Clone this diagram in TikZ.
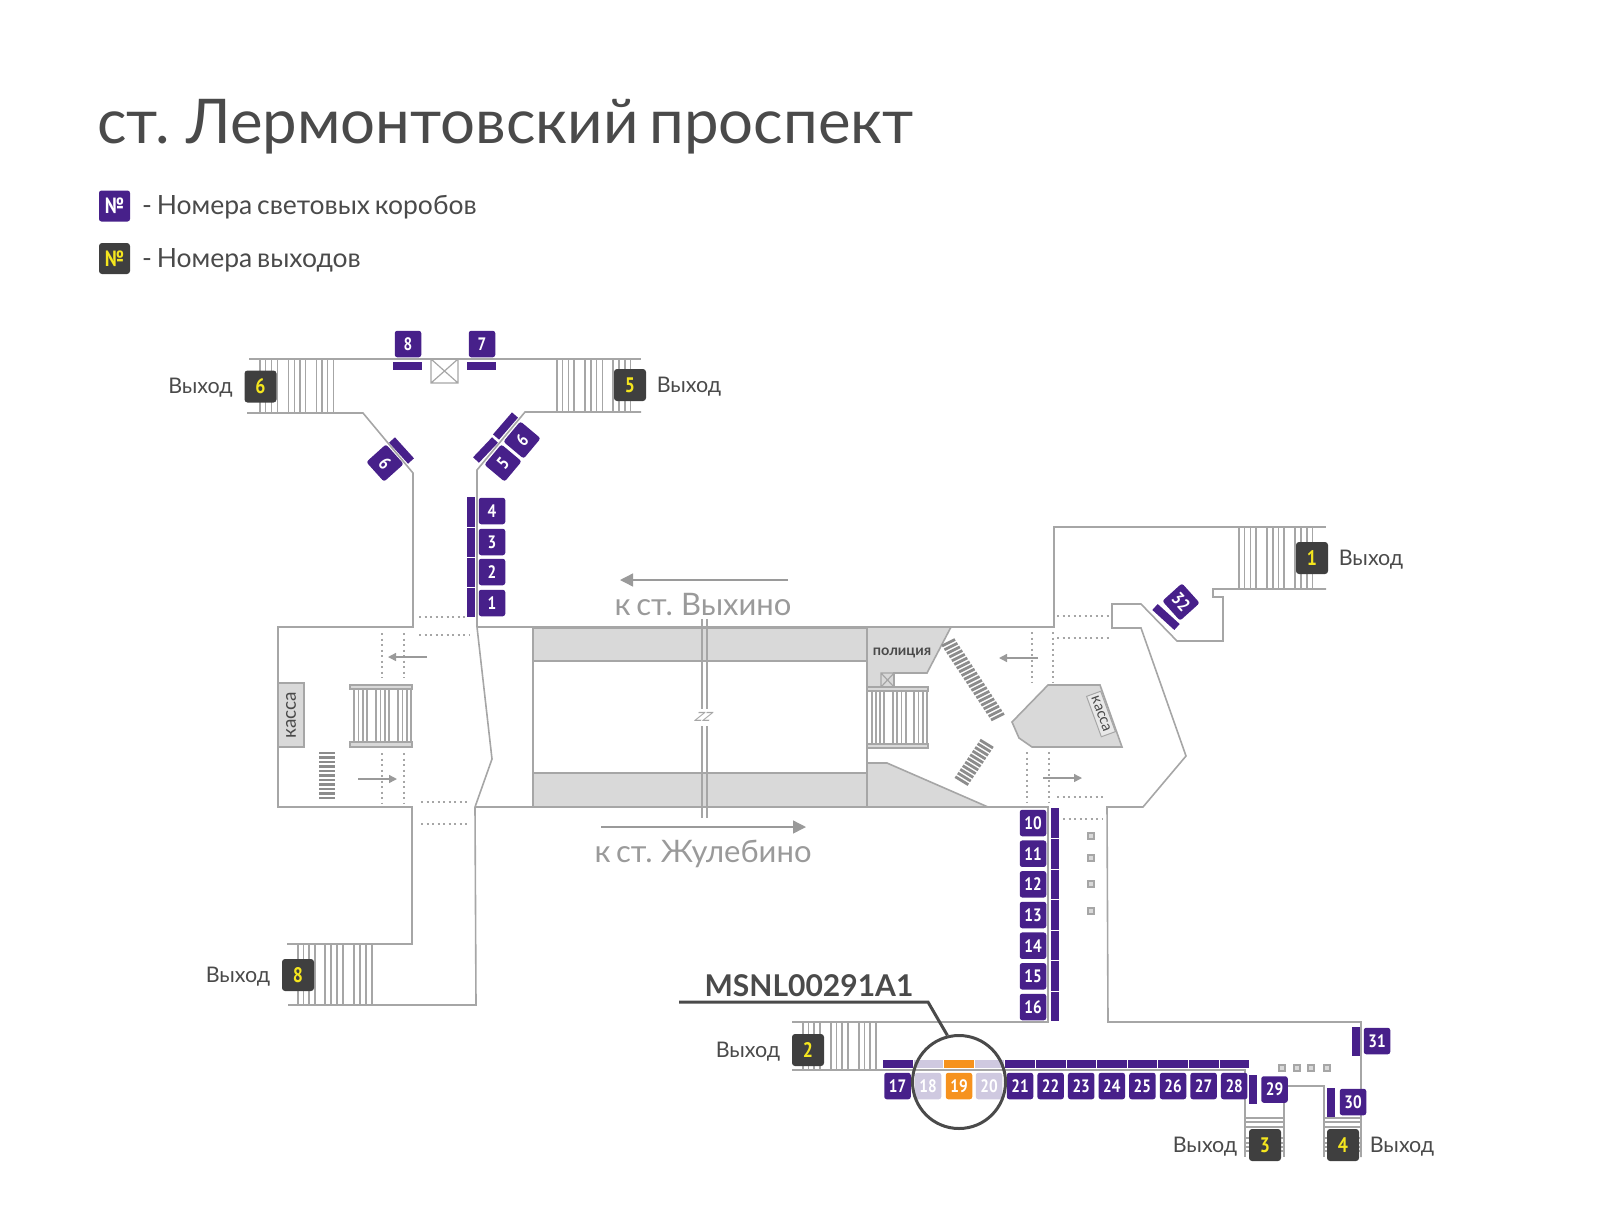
\documentclass[tikz,border=0pt]{standalone}
\usepackage{fontspec}
\setmainfont{Lato}[WordSpace=0.7]
\newfontfamily\numfont[FakeStretch=0.85]{PT Sans}
\usetikzlibrary{arrows.meta}
\definecolor{boxviolet}{HTML}{47208A}
\definecolor{boxpale}{HTML}{CFC9E0}
\definecolor{boxorange}{HTML}{F6921E}
\definecolor{exitgrey}{HTML}{3F3F3F}
\definecolor{exityellow}{HTML}{F5E61E}
\definecolor{wallgrey}{HTML}{A6A6A6}
\definecolor{floorgrey}{HTML}{D9D9D9}
\definecolor{inkgrey}{HTML}{4A4A4A}
\definecolor{labelgrey}{HTML}{9A9A9A}
\tikzset{
	wall/.style={draw=wallgrey,line width=1.6pt,line join=miter},
	stairline/.style={draw=wallgrey,line width=1.2pt},
	dotline/.style={draw=wallgrey,line width=2.4pt,dash pattern=on 2.4pt off 3.1pt},
	hatchline/.style={draw=black!45,line width=2.8pt},
	smallarrow/.style={draw=labelgrey,line width=1.4pt,-{Triangle[length=8pt,width=8pt]}},
	bigarrow/.style={draw=labelgrey,line width=1.4pt,-{Triangle[length=13pt,width=13pt]}},
	lightbar/.style={draw=boxviolet,line width=8pt},
	lightbox/.style={fill=boxviolet,rounded corners=2.5pt,minimum size=26.5pt,inner sep=0pt,text=white,font=\numfont\bfseries\fontsize{18}{18}\selectfont},
	exitbox/.style={fill=exitgrey,rounded corners=3pt,minimum size=32pt,inner sep=0pt,text=exityellow,font=\numfont\bfseries\fontsize{21}{21}\selectfont},
	exitlabel/.style={text=inkgrey,inner sep=0pt,font=\fontsize{21.5}{22}\selectfont},
	pillar/.style={draw=wallgrey,fill=floorgrey,line width=1.8pt,minimum size=6.5pt,inner sep=0pt},
	turnstile/.style={draw=wallgrey,line width=1.2pt},
}
\begin{document}
\begin{tikzpicture}[x=1pt,y=-1pt]
	\useasboundingbox (0,0) rectangle (1600,1216);
	% platforms and grey rooms
	\fill[floorgrey] (533,628) rectangle (867,661) (533,773) rectangle (867,807);
	\filldraw[fill=floorgrey,wall] (867,627) -- (951,627) -- (927,673) -- (894,673) -- (894,687) -- (867,687) -- cycle;
	\filldraw[fill=floorgrey,wall] (867,763) -- (887,763) -- (988,807) -- (867,807) -- cycle;
	\filldraw[fill=floorgrey,wall] (1048,685) -- (1100,685) -- (1122,747) -- (1032,747) -- (1019,738) -- (1012,722) -- cycle;
	\filldraw[fill=floorgrey,draw=wallgrey,line width=1.2pt] (278,683) rectangle (304,747);
	\draw[wall] (533,628) -- (867,628) (533,661) -- (867,661) (533,773) -- (867,773);
	\draw[wall] (533,627) -- (533,807) (867,627) -- (867,807);

	% walls
	\draw[wall] (249,359) -- (641,359);
	\draw[wall] (247,413) -- (363,413) -- (413,473) -- (413,627) -- (278,627) -- (278,807) -- (412,807) -- (412,944) -- (287,944);
	\draw[wall] (288,1005) -- (476,1005) -- (475,807) -- (492,759) -- (477,627) -- (477,470) -- (525,412) -- (641,412);
	\draw[wall] (477,627) -- (1054,627) -- (1054,527) -- (1326,527);
	\draw[wall] (475,807) -- (1048,807) -- (1048,1022) -- (792,1022);
	\draw[wall] (1326,589) -- (1213,589) -- (1213,597) -- (1223,597) -- (1223,641) -- (1177,641) -- (1141,604) -- (1112,604) -- (1112,628) -- (1141,628) -- (1186,756) -- (1143,807) -- (1107,807) -- (1108,1022) -- (1361,1022) -- (1361,1157);
	\draw[wall] (792,1070) -- (1245,1070) -- (1245,1157);
	\draw[wall] (1284,1100) -- (1284,1157) (1288,1086) -- (1324,1086) -- (1324,1157);

	% tracks
	\draw[wall] (702,619) -- (702,709) (707,619) -- (707,709) (702,726) -- (702,818) (707,726) -- (707,818);
	\node[xslant=0.5,text=wallgrey,inner sep=0pt,font=\fontsize{18}{18}\selectfont] (tracksbreak) at (704,717) {zz};

	% stairs
	\foreach \x in {260,265.7,271.4,277.1,288.7,294.4,300,305.7,316.3,322,327.7,333.3} \draw[stairline] (\x,359) -- (\x,413);
	\foreach \x in {557,562.7,568.4,574,585,591,596.7,602.4,613,619,625,630.4} \draw[stairline] (\x,359) -- (\x,412);
	\foreach \x in {298,303.5,309,315,325,331,337,343,354,360,366,372} \draw[stairline] (\x,944) -- (\x,1005);
	\foreach \x in {1239,1244.7,1250.3,1256,1267,1273,1278.5,1284,1295,1301,1307,1312.5} \draw[stairline] (\x,527) -- (\x,589);
	\foreach \x in {803,808.5,814,820,831,836.5,842,848,859,864.5,870,876} \draw[stairline] (\x,1022) -- (\x,1070);
	\foreach \y in {1118,1122,1127,1138,1143,1147,1151} {
		\draw[stairline] (1245,\y) -- (1284,\y);
		\draw[stairline] (1324,\y) -- (1361,\y);
	}

	% escalators
	\filldraw[fill=floorgrey,draw=wallgrey,line width=1.2pt] (350,685) rectangle (412,689) (350,742) rectangle (412,747) (867,687) rectangle (928,691) (867,744) rectangle (928,748);
	\foreach \x in {354,358.5,363,367,376,380.5,385,389,398,402.5,407,411} \draw[stairline] (\x,689) -- (\x,742);
	\foreach \x in {872,876,880,884,893,897,901.5,906,914,918.5,923,927} \draw[stairline] (\x,691) -- (\x,744);

	% hatching
	\foreach \i in {0,...,10} \draw[hatchline] (319,753+4.5*\i) -- (335,753+4.5*\i);
	\foreach \i in {0,...,20} \draw[hatchline] (942+2.45*\i,646+3.7*\i) -- (955+2.45*\i,639.5+3.7*\i);
	\foreach \i in {0,...,10} \draw[hatchline] (980-2.47*\i,740+3.67*\i) -- (993-2.47*\i,748+3.67*\i);

	% dotted lines
	\draw[dotline] (382,633) -- (382,678) (404,633) -- (404,678) (382,753) -- (382,803) (404,753) -- (404,803);
	\draw[dotline] (419,617) -- (468,617) (419,635) -- (470,635) (421,802) -- (467,802) (421,824) -- (467,824);
	\draw[dotline] (1032,632) -- (1032,683) (1053,632) -- (1053,683) (1027,752) -- (1027,803) (1049,752) -- (1049,803);
	\draw[dotline] (1057,616) -- (1109,616) (1057,638) -- (1109,638) (1057,797) -- (1103,797) (1063,819) -- (1103,819);

	% arrows
	\coordinate (arrowa0) at (427,657);
	\coordinate (arrowa1) at (388,657);
	\coordinate (arrowb0) at (358,779);
	\coordinate (arrowb1) at (397,779);
	\coordinate (arrowc0) at (1038,658);
	\coordinate (arrowc1) at (999,658);
	\coordinate (arrowd0) at (1043,778);
	\coordinate (arrowd1) at (1082,778);
	\coordinate (arrowe0) at (788,580);
	\coordinate (arrowe1) at (620,580);
	\coordinate (arrowf0) at (601,827);
	\coordinate (arrowf1) at (806,827);
	\draw[smallarrow] (arrowa0) -- (arrowa1);
	\draw[smallarrow] (arrowb0) -- (arrowb1);
	\draw[smallarrow] (arrowc0) -- (arrowc1);
	\draw[smallarrow] (arrowd0) -- (arrowd1);
	\draw[bigarrow] (arrowe0) -- (arrowe1);
	\draw[bigarrow] (arrowf0) -- (arrowf1);

	% turnstiles
	\draw[turnstile] (431,359) rectangle (458,383) (431,359) -- (458,383) (431,383) -- (458,359);
	\draw[turnstile] (881,673) rectangle (894,687) (881,673) -- (894,687) (881,687) -- (894,673);

	% pillars
	\foreach \y [count=\i] in {836,858,884,911} \node[pillar] (pilla\i) at (1091,\y) {};
	\foreach \x [count=\i] in {1282,1297,1311,1327} \node[pillar] (pillb\i) at (\x,1068) {};

	% text
	\node[anchor=base west,text=inkgrey,inner sep=0pt,font=\fontsize{61.7}{62}\selectfont] (title) at (97,143) {ст. Лермонтовский проспект};
	\node[lightbox,minimum size=31pt,font=\numfont\bfseries\fontsize{22}{22}\selectfont] (legenda) at (114.5,206) {№};
	\node[exitbox,minimum size=31pt,font=\numfont\bfseries\fontsize{22}{22}\selectfont] (legendb) at (114.5,258.5) {№};
	\node[anchor=west,text=inkgrey,inner sep=0pt,font=\fontsize{26.5}{27}\selectfont] (legendatext) at (142,207.5) {- Номера световых коробов};
	\node[anchor=west,text=inkgrey,inner sep=0pt,font=\fontsize{26.5}{27}\selectfont] (legendbtext) at (142,260) {- Номера выходов};
	\node[text=labelgrey,inner sep=0pt,font=\fontsize{31}{31}\selectfont] (towardsa) at (703,604) {к ст. Выхино};
	\node[text=labelgrey,inner sep=0pt,font=\fontsize{31}{31}\selectfont] (towardsb) at (703,854) {к ст. Жулебино};
	\node[rotate=90,text=inkgrey,inner sep=0pt,font=\fontsize{19}{19}\selectfont] (kassaa) at (291,715) {касса};
	\node[rotate=-70,draw=wallgrey,line width=1pt,fill=floorgrey!60,minimum width=43pt,minimum height=15pt,inner sep=0pt,text=inkgrey,font=\fontsize{15}{15}\selectfont] (kassab) at (1101,714) {касса};
	\node[text=inkgrey,inner sep=0pt,font=\bfseries\fontsize{14.5}{15}\selectfont] (police) at (902,652.5) {полиция};

	% exits
	\foreach \n/\x/\y in {1/1312/558,2/808/1050,3/1265/1145,4/1343/1145,5/630/385,6/260.5/386.5,8/298/975} \node[exitbox] (exit\n) at (\x,\y) {\n};
	\foreach \n/\x/\y in {1/1371/560,2/748/1052,3/1205/1147,4/1402/1147,5/689/387,6/200.5/388,8/238/977} \node[exitlabel] (exittext\n) at (\x,\y) {Выход};

	% light boxes on the walls
	\draw[lightbar] (393,365.5) -- (422,365.5);
	\draw[lightbar] (467,365.5) -- (496,365.5);
	\foreach \a/\b in {497/526.5,527.5/556.5,557.5/586.5,587.5/617} \draw[lightbar] (471,\a) -- (471,\b);
	\foreach \a/\b in {808/837.5,838.5/868.5,869.5/898.5,899.5/929.5,930.5/959.5,960.5/990.5,991.5/1021} \draw[lightbar] (1055,\a) -- (1055,\b);
	\draw[lightbar] (392,440) -- (411,461);
	\draw[lightbar] (476,460) -- (495,440);
	\draw[lightbar] (496,437) -- (515,415);
	\draw[lightbar] (1155,607) -- (1177,627);
	\draw[lightbar] (1253,1075) -- (1253,1104);
	\draw[lightbar] (1331,1088) -- (1331,1117);
	\draw[lightbar] (1355.5,1027) -- (1355.5,1056);
	\foreach \i in {0,...,11} {
		\pgfmathsetmacro{\barx}{883+30.6*\i}
		\ifnum\i=1 \colorlet{barcol}{boxpale}\else\ifnum\i=3 \colorlet{barcol}{boxpale}\else\ifnum\i=2 \colorlet{barcol}{boxorange}\else\colorlet{barcol}{boxviolet}\fi\fi\fi
		\draw[lightbar,draw=barcol] (\barx,1064) -- (\barx+29.6,1064);
	}

	\foreach \n/\y in {4/511,3/542,2/572,1/603} \node[lightbox] (box\n) at (492,\y) {\n};
	\foreach \n/\x in {8/408,7/482} \node[lightbox] (box\n) at (\x,344) {\n};
	\foreach \n/\y in {10/823,11/853.7,12/884.3,13/915,14/945.7,15/976.3,16/1007} \node[lightbox] (box\n) at (1033,\y) {\n};
	\foreach \n/\x in {17/897.5,21/1020,22/1050.6,23/1081.2,24/1111.8,25/1142.4,26/1173,27/1203.6,28/1234.2} \node[lightbox] (box\n) at (\x,1086) {\n};
	\node[lightbox,fill=boxpale] (box18) at (928,1086) {18};
	\node[lightbox,fill=boxorange] (box19) at (959,1086) {19};
	\node[lightbox,fill=boxpale] (box20) at (989,1086) {20};
	\node[lightbox] (box29) at (1274.5,1089.5) {29};
	\node[lightbox] (box30) at (1353,1102) {30};
	\node[lightbox] (box31) at (1377,1041) {31};
	\node[lightbox,rotate=50] (box5) at (503,463) {5};
	\node[lightbox,rotate=50] (box6) at (522,440) {6};
	\node[lightbox,rotate=132] (box9) at (385,463) {9};
	\node[lightbox,rotate=-48] (box32) at (1181,602) {32};

	% highlighted place
	\node[circle,draw=inkgrey,line width=3pt,minimum size=93pt,inner sep=0pt] (spot) at (959,1082) {};
	\node[anchor=base,text=inkgrey,inner sep=0pt,font=\fontsize{30}{30}\selectfont\bfseries] (spotname) at (809,996.5) {MSNL00291A1};
	\coordinate (leaderstart) at (679,1002);
	\coordinate (leaderknee) at (928,1002);
	\draw[draw=inkgrey,line width=3pt] (leaderstart) -- (leaderknee) -- (spot.104);
\end{tikzpicture}
\end{document}
